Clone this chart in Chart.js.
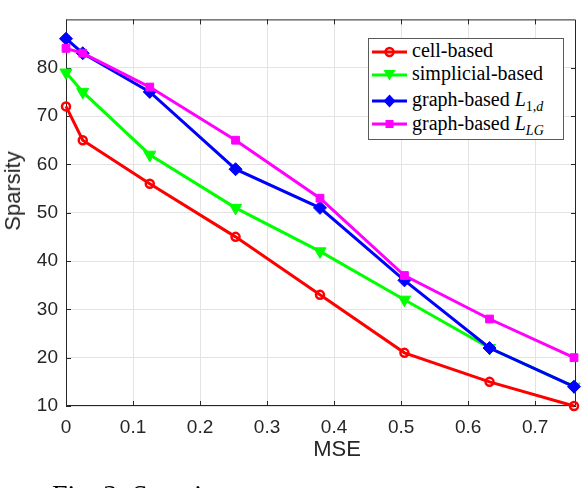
<!DOCTYPE html>
<html>
<head>
<meta charset="utf-8">
<title>Sparsity vs MSE</title>
<script src="https://cdn.jsdelivr.net/npm/chart.js@4/dist/chart.umd.min.js"></script>
<style>
  html, body { margin: 0; padding: 0; background: #fff; overflow: hidden; }
  #wrap { position: relative; width: 584px; height: 488px; overflow: hidden; }
  #myChart { position: absolute; left: 0; top: 0; }
  .axis-title {
    position: absolute;
    font-family: "Liberation Sans", Arial, sans-serif;
    font-size: 22px;
    color: #262626;
    white-space: nowrap;
    line-height: 22px;
  }
  #xTitle { left: 337px; top: 449px; transform: translate(-50%, -50%); }
  #yTitle { left: 13px; top: 191px; transform: translate(-50%, -50%) rotate(-90deg); }
  #legend {
    position: absolute;
    left: 368px; top: 38px;
    width: 194px; height: 100px;
    background: #fff;
    border: 1px solid #5a5a5a;
    font-family: "Liberation Serif", "Times New Roman", serif;
    font-size: 20px;
    color: #000;
  }
  .row { position: absolute; left: 3px; height: 20px; width: 188px; line-height: 20px; }
  .row svg { position: absolute; left: 0; top: 3.5px; }
  .row span { position: absolute; left: 40px; top: 0; white-space: nowrap; }
  .row sub { font-size: 14px; vertical-align: -5px; line-height: 0; }
  #caption {
    position: absolute;
    left: 52px; top: 481px;
    font-family: "Liberation Serif", "Times New Roman", serif;
    font-size: 28px;
    line-height: 28px;
    color: #000;
    white-space: nowrap;
  }
</style>
</head>
<body>
<div id="wrap">
  <canvas id="myChart" width="584" height="488"></canvas>
  <div id="xTitle" class="axis-title">MSE</div>
  <div id="yTitle" class="axis-title">Sparsity</div>
  <div id="legend"></div>
  <div id="caption">Fig. 3: Sparsity</div>
</div>
<script>
// values
const mse = [0, 0.025, 0.125, 0.253, 0.379, 0.505, 0.632, 0.758];
const cellBased = [72, 65, 56, 45, 33, 21, 15, 10];
const simplicialBased = [79, 75, 62, 51, 42, 32, 22, 14];
const graphL1d = [86, 83, 75, 59, 51, 36, 22, 14];
const graphLLG = [84, 83, 76, 65, 53, 37, 28, 20];

const xTicks = [0, 0.1, 0.2, 0.3, 0.4, 0.5, 0.6, 0.7];
const yTicks = [10, 20, 30, 40, 50, 60, 70, 80];
const xRange = [0, 0.761];
const yRange = [10, 90];

const seriesNames = ["cell-based", "simplicial-based", "graph-based <i>L</i><sub>1,<i>d</i></sub>", "graph-based <i>L</i><sub><i>LG</i></sub>"];

function series(values, color, style, radius, rotation, fill, pointBorder, order) {
  return {
    data: mse.map((x, i) => ({ x: x, y: values[i] })),
    borderColor: color,
    backgroundColor: color,
    borderWidth: 3,
    pointStyle: style,
    pointRadius: radius,
    pointHoverRadius: radius,
    pointRotation: rotation,
    pointBackgroundColor: fill,
    pointBorderColor: color,
    pointBorderWidth: pointBorder,
    tension: 0,
    clip: false,
    order: order,
  };
}

// box round the axes and inward tick marks, like the original plot
const axesBox = {
  id: "axesBox",
  beforeDatasetsDraw(chart) {
    const { ctx, chartArea: a, scales } = chart;
    const len = 5;
    ctx.save();
    ctx.strokeStyle = "#262626";
    ctx.lineWidth = 1;
    ctx.beginPath();
    ctx.rect(a.left + 0.5, a.top + 0.5, a.right - a.left - 1, a.bottom - a.top - 1);
    xTicks.forEach((v) => {
      const px = Math.round(scales.x.getPixelForValue(v)) + 0.5;
      ctx.moveTo(px, a.bottom); ctx.lineTo(px, a.bottom - len);
      ctx.moveTo(px, a.top); ctx.lineTo(px, a.top + len);
    });
    yTicks.forEach((v) => {
      const py = Math.round(scales.y.getPixelForValue(v)) + 0.5;
      ctx.moveTo(a.left, py); ctx.lineTo(a.left + len, py);
      ctx.moveTo(a.right, py); ctx.lineTo(a.right - len, py);
    });
    ctx.stroke();
    ctx.restore();
  },
};

initChart();
buildLegend();

function initChart() {
  const ctx = document.getElementById("myChart").getContext("2d");
  const tickFont = { family: "'Liberation Sans', Arial, sans-serif", size: 19 };
  window.chart = new Chart(ctx, {
    type: "line",
    data: {
      datasets: [
        series(cellBased, "#ff0000", "circle", 4, 0, "rgba(255,0,0,0)", 2.5, 3),
        series(simplicialBased, "#00ff00", "triangle", 7, 180, "#00ff00", 1, 2),
        series(graphL1d, "#0000ff", "rectRot", 6.5, 0, "#0000ff", 1, 1),
        series(graphLLG, "#ff00ff", "rect", 5.5, 0, "#ff00ff", 1, 0),
      ],
    },
    options: {
      responsive: false,
      animation: false,
      layout: { padding: { top: 2, right: 6, left: 0, bottom: 0 } },
      plugins: { legend: { display: false }, tooltip: { enabled: false } },
      scales: {
        x: {
          type: "linear",
          min: xRange[0],
          max: xRange[1],
          afterBuildTicks: (s) => { s.ticks = xTicks.map((v) => ({ value: v })); },
          afterFit: (s) => { s.height = 82; },
          grid: { color: "#e3e3e3", drawTicks: false },
          border: { display: false },
          ticks: { font: tickFont, color: "#262626", padding: 10, maxRotation: 0, callback: (v) => String(v) },
        },
        y: {
          type: "linear",
          min: yRange[0],
          max: yRange[1],
          afterBuildTicks: (s) => { s.ticks = yTicks.map((v) => ({ value: v })); },
          afterFit: (s) => { s.width = 66; },
          grid: { color: "#e3e3e3", drawTicks: false },
          border: { display: false },
          ticks: { font: tickFont, color: "#262626", padding: 8, callback: (v) => String(v) },
        },
      },
    },
    plugins: [axesBox],
  });
}

function symbolSvg(ds) {
  const c = ds.borderColor;
  let mark = "";
  if (ds.pointStyle === "circle") {
    mark = `<circle cx="17.5" cy="8" r="4" fill="none" stroke="${c}" stroke-width="2.5"/>`;
  } else if (ds.pointStyle === "triangle") {
    mark = `<polygon points="11.5,3 23.5,3 17.5,13.5" fill="${c}"/>`;
  } else if (ds.pointStyle === "rectRot") {
    mark = `<polygon points="17.5,1.5 23.5,8 17.5,14.5 11.5,8" fill="${c}"/>`;
  } else {
    mark = `<rect x="13.5" y="4" width="8" height="8" fill="${c}"/>`;
  }
  return `<svg width="35" height="16" viewBox="0 0 35 16"><line x1="0" y1="8" x2="35" y2="8" stroke="${c}" stroke-width="3"/>${mark}</svg>`;
}

function buildLegend() {
  const legend = document.getElementById("legend");
  const rowTops = [1, 24.3, 50.3, 73.6];
  chart.data.datasets.forEach((ds, i) => {
    const row = document.createElement("div");
    row.className = "row";
    row.style.top = rowTops[i] + "px";
    row.innerHTML = symbolSvg(ds) + `<span>${seriesNames[i]}</span>`;
    legend.appendChild(row);
  });
}
</script>
</body>
</html>
